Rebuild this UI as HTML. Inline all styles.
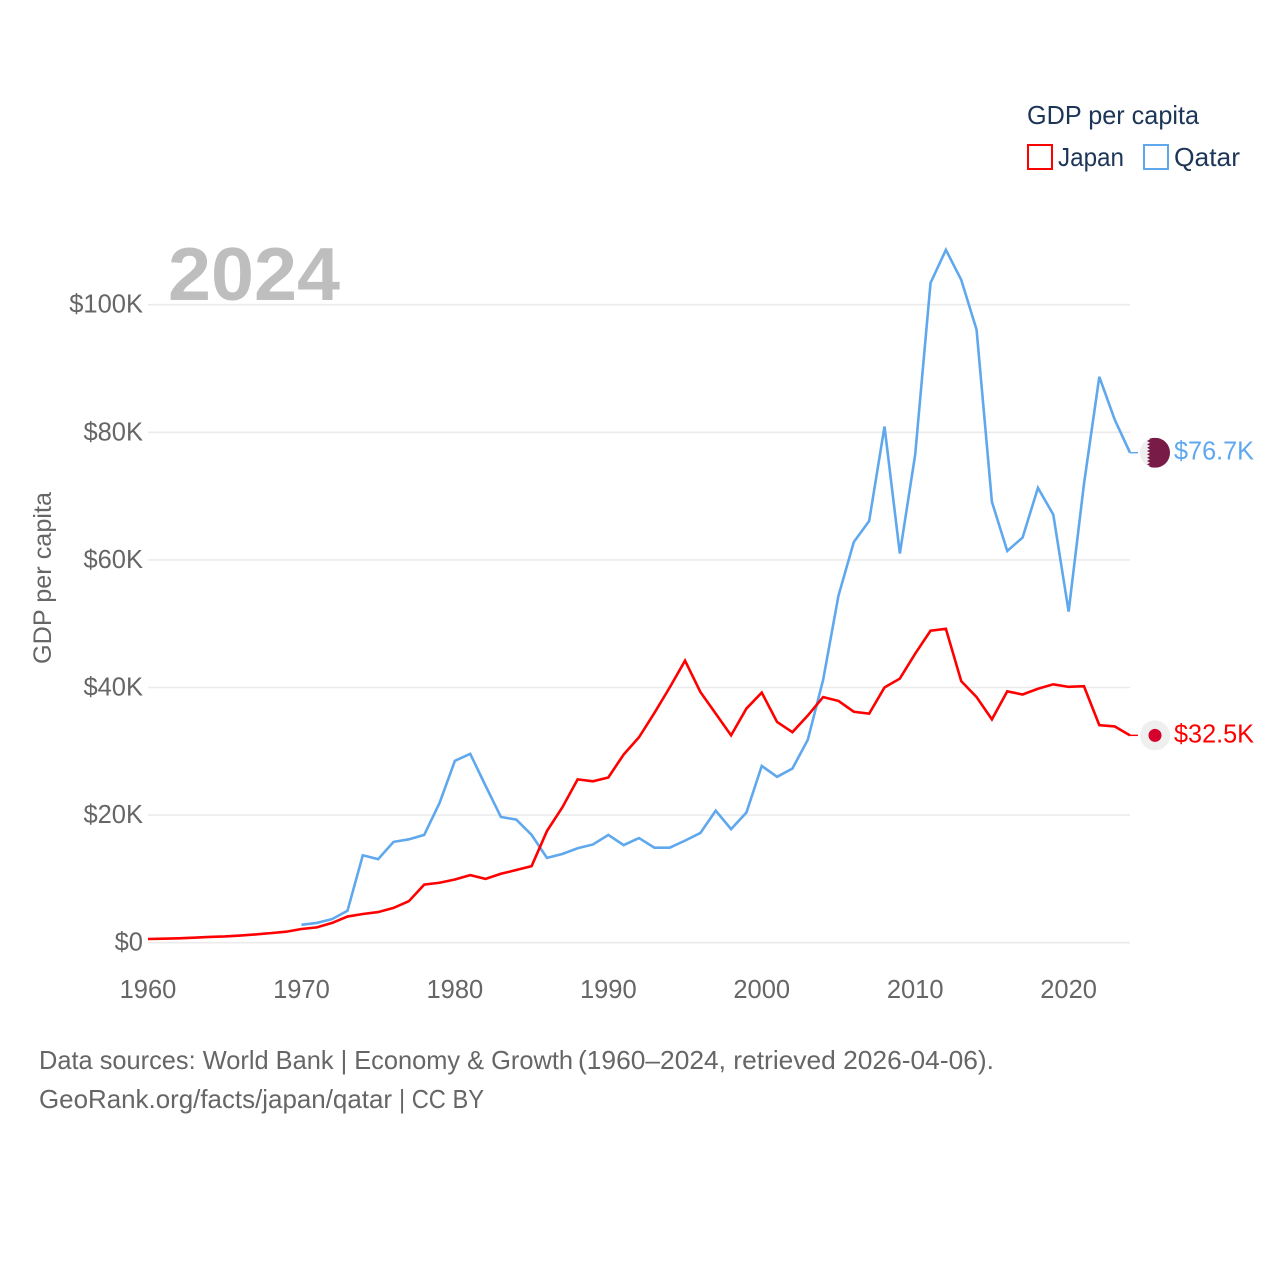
<!DOCTYPE html>
<html lang="en">
<head>
<meta charset="utf-8">
<title>GDP per capita: Japan and Qatar</title>
<style>
  html, body { margin: 0; padding: 0; background: #fff; }
  svg { display: block; }
  text { font-family: "Liberation Sans", sans-serif; }
</style>
</head>
<body>
<svg id="chart" xmlns="http://www.w3.org/2000/svg" width="1280" height="1280" viewBox="0 0 1280 1280">
  <rect x="0" y="0" width="1280" height="1280" fill="#fff"/>
  <g id="grid"></g>
  <text x="168" y="300" font-size="75" font-weight="700" fill="#bebebe" textLength="172" lengthAdjust="spacingAndGlyphs">2024</text>
  <g id="y-ticks"></g>
  <g id="x-ticks"></g>
  <text transform="translate(51 578) rotate(-90)" text-anchor="middle" font-size="25" fill="#666" textLength="172" lengthAdjust="spacingAndGlyphs">GDP per capita</text>
  <g id="series"></g>
  <g id="ends"></g>

  <g>
    <text x="1027" y="124" font-size="26" fill="#1d3557" textLength="172" lengthAdjust="spacingAndGlyphs">GDP per capita</text>
    <g>
      <rect x="1028" y="145" width="24" height="24" fill="none" stroke="#ff0000" stroke-width="2"/>
      <text x="1058" y="166" font-size="26" fill="#1d3557" textLength="66" lengthAdjust="spacingAndGlyphs">Japan</text>
    </g>
    <g>
      <rect x="1144" y="145" width="24" height="24" fill="none" stroke="#5fa8ee" stroke-width="2"/>
      <text x="1174" y="166" font-size="26" fill="#1d3557" textLength="66" lengthAdjust="spacingAndGlyphs">Qatar</text>
    </g>
  </g>

  <text y="1069" font-size="26" fill="#666"><tspan x="39" textLength="534" lengthAdjust="spacingAndGlyphs">Data sources: World Bank | Economy &amp; Growth</tspan> <tspan x="578" textLength="416" lengthAdjust="spacingAndGlyphs">(1960–2024, retrieved 2026-04-06).</tspan></text>
  <text y="1108" font-size="26" fill="#666"><tspan x="39" textLength="353" lengthAdjust="spacingAndGlyphs">GeoRank.org/facts/japan/qatar</tspan> <tspan x="399" textLength="85" lengthAdjust="spacingAndGlyphs">| CC BY</tspan></text>
</svg>

<script>
// Data, in thousands of US dollars per person
const startYearJapan = 1960;
const startYearQatar = 1970;
const japanValues = [
  0.58, 0.63, 0.68, 0.78, 0.9, 0.98, 1.12, 1.3, 1.5, 1.72,
  2.15, 2.4, 3.1, 4.1, 4.5, 4.8, 5.45, 6.5, 9.1, 9.4,
  9.9, 10.6, 10.0, 10.8, 11.4, 12.0, 17.5, 21.2, 25.6, 25.3,
  25.9, 29.5, 32.2, 36.0, 40.0, 44.2, 39.3, 35.9, 32.5, 36.7,
  39.2, 34.6, 33.0, 35.6, 38.5, 37.9, 36.2, 35.9, 40.0, 41.4,
  45.3, 48.9, 49.2, 41.0, 38.5, 35.0, 39.4, 38.9, 39.8, 40.5,
  40.1, 40.2, 34.1, 33.9, 32.5
];
const qatarValues = [
  2.8, 3.1, 3.7, 5.0, 13.7, 13.1, 15.8, 16.2, 16.9, 21.9,
  28.5, 29.6, 24.6, 19.7, 19.3, 16.9, 13.3, 13.9, 14.8, 15.4,
  16.9, 15.3, 16.4, 14.9, 14.9, 16.0, 17.2, 20.7, 17.8, 20.4,
  27.7, 26.0, 27.3, 31.8, 41.2, 54.4, 62.8, 66.1, 80.9, 61.0,
  76.5, 103.4, 108.6, 103.9, 96.1, 69.1, 61.4, 63.5, 71.3, 67.1,
  51.9, 71.9, 88.7, 82.0, 76.8
];
const yTickValues = [0, 20, 40, 60, 80, 100];
const yTickLabels = ["$0", "$20K", "$40K", "$60K", "$80K", "$100K"];
const xTickValues = [1960, 1970, 1980, 1990, 2000, 2010, 2020];
const xTickLabels = ["1960", "1970", "1980", "1990", "2000", "2010", "2020"];
const endLabels = { japan: "$32.5K", qatar: "$76.7K" };

// Axis functions
const plot = { x0: 148, x1: 1130, y0: 942.7, y100: 304.7 };
function xScale(year) { return plot.x0 + (year - 1960) * (plot.x1 - plot.x0) / (2024 - 1960); }
function yScale(v) { return plot.y0 + v * (plot.y100 - plot.y0) / 100; }

const NS = "http://www.w3.org/2000/svg";
function make(tag, attrs, parent) {
  const el = document.createElementNS(NS, tag);
  for (const k in attrs) el.setAttribute(k, attrs[k]);
  parent.appendChild(el);
  return el;
}

const grid = document.getElementById("grid");
const yTicks = document.getElementById("y-ticks");
const xTicks = document.getElementById("x-ticks");
const series = document.getElementById("series");
const ends = document.getElementById("ends");

yTickValues.forEach(function (v, i) {
  const line = make("line", { x1: plot.x0, x2: plot.x1, y1: yScale(v), y2: yScale(v), stroke: "#ebebeb", "stroke-width": 1.6 }, grid);
  
  
  const label = make("text", { x: 143, y: yScale(v) + 8, "text-anchor": "end", "font-size": 25.5, fill: "#666" }, yTicks);
  
  
  label.textContent = yTickLabels[i];
});

xTickValues.forEach(function (yr, i) {
  const label = make("text", { x: xScale(yr), y: 998, "text-anchor": "middle", "font-size": 25.5, fill: "#666" }, xTicks);
  
  
  label.textContent = xTickLabels[i];
});

function linePath(values, startYear) {
  return values.map(function (v, i) {
    return (i ? "L" : "M") + xScale(startYear + i).toFixed(2) + " " + yScale(v).toFixed(2);
  }).join(" ");
}

const qatarLine = make("path", { d: linePath(qatarValues, startYearQatar), fill: "none", stroke: "#5fa8ee", "stroke-width": 2.6, "stroke-linejoin": "miter" }, series);



const japanLine = make("path", { d: linePath(japanValues, startYearJapan), fill: "none", stroke: "#ff0000", "stroke-width": 2.6, "stroke-linejoin": "miter" }, series);



// End connectors, flags and value labels
const markerX = 1155;
const qatarEndY = yScale(qatarValues[qatarValues.length - 1]);
const japanEndY = yScale(japanValues[japanValues.length - 1]);

const qatarStub = make("line", { x1: plot.x1, x2: 1138, y1: qatarEndY, y2: qatarEndY, stroke: "#5fa8ee", "stroke-width": 1.4 }, ends);



const japanStub = make("line", { x1: plot.x1, x2: 1138, y1: japanEndY, y2: japanEndY, stroke: "#ff0000", "stroke-width": 1.4 }, ends);



// Qatar flag
const clip = make("clipPath", { id: "qatar-clip" }, ends);
make("circle", { cx: markerX, cy: qatarEndY, r: 15 }, clip);
const qatarFlag = make("g", { "clip-path": "url(#qatar-clip)" }, ends);


make("rect", { x: markerX - 15, y: qatarEndY - 15, width: 30, height: 30, fill: "#efefef" }, qatarFlag);
const teeth = 9;
const toothH = 30 / teeth;
let d = "M" + (markerX + 16) + " " + (qatarEndY - 15) + " L" + (markerX - 8) + " " + (qatarEndY - 15);
for (let i = 0; i < teeth; i++) {
  const top = qatarEndY - 15 + i * toothH;
  d += " L" + (markerX - 5) + " " + (top + toothH / 2) + " L" + (markerX - 8) + " " + (top + toothH);
}
d += " L" + (markerX + 16) + " " + (qatarEndY + 15) + " Z";
make("path", { d: d, fill: "#781c47" }, qatarFlag);

// Japan flag
const japanFlag = make("g", {}, ends);


make("circle", { cx: markerX, cy: japanEndY, r: 15, fill: "#efefef" }, japanFlag);
make("circle", { cx: markerX, cy: japanEndY, r: 6.5, fill: "#d5002b" }, japanFlag);

const qatarValueLabel = make("text", { x: 1174, y: qatarEndY + 7, "font-size": 25.5, fill: "#5fa8ee", textLength: 80, lengthAdjust: "spacingAndGlyphs" }, ends);


qatarValueLabel.textContent = endLabels.qatar;

const japanValueLabel = make("text", { x: 1174, y: japanEndY + 7, "font-size": 25.5, fill: "#ff0000", textLength: 80, lengthAdjust: "spacingAndGlyphs" }, ends);


japanValueLabel.textContent = endLabels.japan;
</script>
</body>
</html>
